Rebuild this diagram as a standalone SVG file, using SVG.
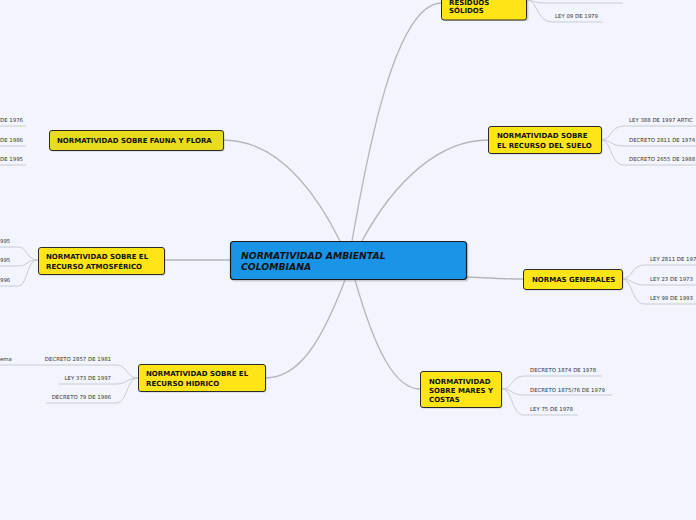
<svg xmlns="http://www.w3.org/2000/svg" width="696" height="520" viewBox="0 0 696 520">
<style>
.bg{fill:#f2f5fd}
.main{fill:none;stroke:#b4b6bd;stroke-width:1.3}
.sub{fill:none;stroke:#c9cbd2;stroke-width:1}
.box{fill:#ffe516;stroke:#2a2a2a;stroke-width:1}
.sh{fill:#9a9aa0;opacity:.45}
.nt{font-family:"DejaVu Sans",Verdana,sans-serif;font-size:7px;font-weight:bold;fill:#111}
.ct{font-family:"DejaVu Sans",Verdana,sans-serif;font-size:9.3px;font-weight:bold;font-style:italic;fill:#111}
.lt{font-family:"DejaVu Sans",Verdana,sans-serif;font-size:5.4px;fill:#333}
</style>
<rect class="bg" width="696" height="520"/>
<g id="connectors">
<path class="main" d="M352,241 C368,150 395,5 441,3"/>
<path class="main" d="M340,241 C312,185 275,140 223,140"/>
<path class="main" d="M362,241 C395,180 440,140 488,140"/>
<path class="main" d="M230,260 L164,260"/>
<path class="main" d="M467,277 C490,278 505,279 523,279"/>
<path class="main" d="M345,280 C322,340 300,378 265,378"/>
<path class="main" d="M355,280 C375,350 395,389 420,389"/>
<path class="sub" d="M527,0 C532,0 534,3 545,3 L623,3"/>
<path class="sub" d="M527,0 C538,0 536,22 552,22 L603,22"/>
<path class="sub" d="M0,126 L26,126"/>
<path class="sub" d="M0,146 L26,146"/>
<path class="sub" d="M0,165 L26,165"/>
<path class="sub" d="M38,260 C26,260 28,247 18,247 L0,247"/>
<path class="sub" d="M38,260 C26,260 28,266 18,266 L0,266"/>
<path class="sub" d="M38,260 C26,260 28,286 18,286 L0,286"/>
<path class="sub" d="M138,378 C126,378 128,365 116,365 L0,365"/>
<path class="sub" d="M138,378 C126,378 128,384 116,384 L59,384"/>
<path class="sub" d="M138,378 C126,378 128,403 116,403 L46,403"/>
<path class="sub" d="M601,140 C612,140 610,126 624,126 L696,126"/>
<path class="sub" d="M601,140 C612,140 610,146 624,146 L696,146"/>
<path class="sub" d="M601,140 C612,140 610,165 624,165 L696,165"/>
<path class="sub" d="M622,279 C633,279 631,265 645,265 L696,265"/>
<path class="sub" d="M622,279 C633,279 631,285 645,285 L696,285"/>
<path class="sub" d="M622,279 C633,279 631,304 645,304 L696,304"/>
<path class="sub" d="M502,389 C513,389 511,376 524,376 L602,376"/>
<path class="sub" d="M502,389 C513,389 511,395 524,395 L612,395"/>
<path class="sub" d="M502,389 C513,389 511,415 524,415 L578,415"/>
</g>
<g id="center">
<rect class="sh" x="231.5" y="242.5" width="237" height="39" rx="3"/>
<rect x="230.5" y="241.5" width="236" height="38" rx="3" fill="#1a94e6" stroke="#1a1a1a" stroke-width="1.2"/>
<text class="ct" x="241" y="259">NORMATIVIDAD AMBIENTAL</text>
<text class="ct" x="241" y="270">COLOMBIANA</text>
</g>
<g id="residuos">
<rect class="sh" x="442.5" y="-9" width="86" height="30" rx="2.5"/>
<rect class="box" x="441.5" y="-10" width="85" height="30" rx="2.5"/>
<text class="nt" x="449" y="5">RESIDUOS</text>
<text class="nt" x="449" y="13">SÓLIDOS</text>
</g>
<g id="residuos-children">
<text class="lt" x="555" y="18">LEY 09 DE 1979</text>
</g>
<g id="fauna">
<rect class="sh" x="50.5" y="131.5" width="174" height="20" rx="2.5"/>
<rect class="box" x="49.5" y="130.5" width="174" height="20" rx="2.5" style="fill:#e9dc1c"/>
<text class="nt" x="57" y="143">NORMATIVIDAD SOBRE FAUNA Y FLORA</text>
</g>
<g id="fauna-children">
<text class="lt" x="0" y="122">DE 1976</text>
<text class="lt" x="0" y="142">DE 1986</text>
<text class="lt" x="0" y="161">DE 1995</text>
</g>
<g id="atmosferico">
<rect class="sh" x="39.5" y="248.5" width="126" height="27" rx="2.5"/>
<rect class="box" x="38.5" y="247.5" width="126" height="27" rx="2.5"/>
<text class="nt" x="46" y="259">NORMATIVIDAD SOBRE EL</text>
<text class="nt" x="46" y="268.5">RECURSO ATMOSFÉRICO</text>
</g>
<g id="atmosferico-children">
<text class="lt" x="0" y="243">995</text>
<text class="lt" x="0" y="262">995</text>
<text class="lt" x="0" y="282">996</text>
</g>
<g id="hidrico">
<rect class="sh" x="139.5" y="365.5" width="127" height="27" rx="2.5"/>
<rect class="box" x="138.5" y="364.5" width="127" height="27" rx="2.5"/>
<text class="nt" x="146" y="376">NORMATIVIDAD SOBRE EL</text>
<text class="nt" x="146" y="385.5">RECURSO HIDRICO</text>
</g>
<g id="hidrico-children">
<text class="lt" x="0" y="361">ema</text>
<text class="lt" x="111" y="361" text-anchor="end">DECRETO 2857 DE 1981</text>
<text class="lt" x="111" y="380" text-anchor="end">LEY 373 DE 1997</text>
<text class="lt" x="111" y="399" text-anchor="end">DECRETO 79 DE 1986</text>
</g>
<g id="suelo">
<rect class="sh" x="489.5" y="127.5" width="113" height="27" rx="2.5"/>
<rect class="box" x="488.5" y="126.5" width="113" height="27" rx="2.5"/>
<text class="nt" x="497" y="138">NORMATIVIDAD SOBRE</text>
<text class="nt" x="497" y="147.5">EL RECURSO DEL SUELO</text>
</g>
<g id="suelo-children">
<text class="lt" x="629" y="122">LEY 388 DE 1997 ARTIC</text>
<text class="lt" x="629" y="142">DECRETO 2811 DE 1974</text>
<text class="lt" x="629" y="161">DECRETO 2655 DE 1988</text>
</g>
<g id="normas">
<rect class="sh" x="524.5" y="270.5" width="99" height="20" rx="2.5"/>
<rect class="box" x="523.5" y="269.5" width="99" height="20" rx="2.5"/>
<text class="nt" x="532" y="282">NORMAS GENERALES</text>
</g>
<g id="normas-children">
<text class="lt" x="650" y="261">LEY 2811 DE 197</text>
<text class="lt" x="650" y="281">LEY 23 DE 1973</text>
<text class="lt" x="650" y="300">LEY 99 DE 1993</text>
</g>
<g id="mares">
<rect class="sh" x="421.5" y="372.5" width="81" height="36" rx="2.5"/>
<rect class="box" x="420.5" y="371.5" width="81" height="36" rx="2.5"/>
<text class="nt" x="429" y="384">NORMATIVIDAD</text>
<text class="nt" x="429" y="393">SOBRE MARES Y</text>
<text class="nt" x="429" y="402">COSTAS</text>
</g>
<g id="mares-children">
<text class="lt" x="530" y="372">DECRETO 1874 DE 1978</text>
<text class="lt" x="530" y="391.5">DECRETO 1875/76 DE 1979</text>
<text class="lt" x="530" y="411">LEY 75 DE 1978</text>
</g>
</svg>
